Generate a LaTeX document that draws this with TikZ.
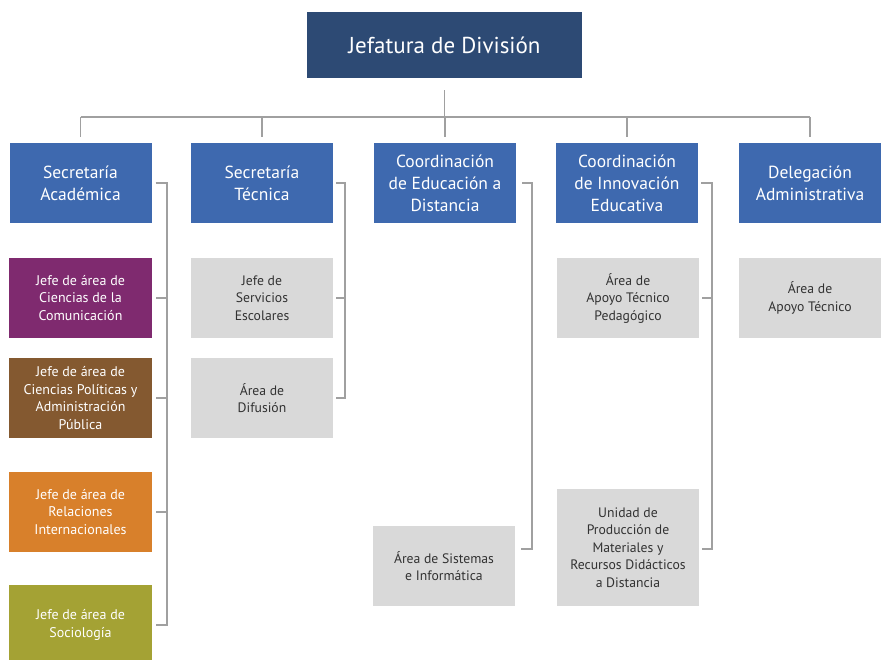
\documentclass[tikz,border=0pt]{standalone}
\usepackage{fontspec}
\setmainfont{PT Sans}
\definecolor{topc}{RGB}{45,74,116}
\definecolor{lvc}{RGB}{62,105,175}
\definecolor{purp}{RGB}{127,42,111}
\definecolor{brwn}{RGB}{132,89,48}
\definecolor{orng}{RGB}{216,128,43}
\definecolor{oliv}{RGB}{164,162,52}
\definecolor{grayc}{RGB}{217,217,217}
\definecolor{txtg}{RGB}{50,50,50}
\definecolor{linec}{RGB}{160,160,160}
\tikzset{
  topbox/.style={rectangle, fill=topc, text=white, minimum width=275, minimum height=66, align=center, font=\fontsize{23}{27}\selectfont, inner sep=0},
  lvbox/.style={rectangle, fill=lvc, text=white, minimum width=142, minimum height=80, align=center, font=\fontsize{17.5}{22}\selectfont, inner sep=0},
  colbox/.style={rectangle, fill=#1, text=white, minimum width=143, minimum height=80, align=center, font=\fontsize{14}{17.5}\selectfont, inner sep=0},
  graybox/.style={rectangle, fill=grayc, text=txtg, minimum width=142, minimum height=80, align=center, font=\fontsize{13.7}{17.5}\selectfont, inner sep=0},
  conn/.style={draw=linec, line width=1.8pt}
}
\begin{document}
\begin{tikzpicture}[x=1pt,y=-1pt]
\useasboundingbox[fill=white] (0,0) rectangle (882,659);
% top
\node[topbox] (top) at (444.5,45) {Jefatura de División};
% level 2
\node[lvbox] (sa) at (80.5,183) {Secretaría\\Académica};
\node[lvbox] (st) at (262,183) {Secretaría\\Técnica};
\node[lvbox] (ce) at (445,183) {Coordinación\\de Educación a\\Distancia};
\node[lvbox] (ci) at (627,183) {Coordinación\\de Innovación\\Educativa};
\node[lvbox] (da) at (810,183) {Delegación\\Administrativa};
% children of sa
\node[colbox=purp] (com) at (80.5,298) {Jefe de área de\\Ciencias de la\\Comunicación};
\node[colbox=brwn] (pol) at (80.5,398) {Jefe de área de\\Ciencias Políticas y\\Administración\\Pública};
\node[colbox=orng] (rel) at (80.5,512) {Jefe de área de\\Relaciones\\Internacionales};
\node[colbox=oliv] (soc) at (80.5,625) {Jefe de área de\\Sociología};
% children of st
\node[graybox] (serv) at (262,298) {Jefe de\\Servicios\\Escolares};
\node[graybox] (dif) at (262,398) {Área de\\Difusión};
% child of ce
\node[graybox] (sis) at (444,566) {Área de Sistemas\\e Informática};
% children of ci
\node[graybox] (atp) at (628,298) {Área de\\Apoyo Técnico\\Pedagógico};
\node[graybox, minimum height=117] (upm) at (628,547.5) {Unidad de\\Producción de\\Materiales y\\Recursos Didácticos\\a Distancia};
% child of da
\node[graybox] (at) at (810,298) {Área de\\Apoyo Técnico};
% top connectors
\coordinate (bus) at (444.5,117);
\draw[conn, shorten <=12pt] (top.south) -- (bus);
\draw[conn] (sa.north |- bus) -- (da.north |- bus);
\foreach \b in {sa,st,ce,ci,da}{
  \draw[conn, shorten >=6pt] (\b.north |- bus) -- (\b.north);
}
% brackets
\coordinate (saB) at ([xshift=15]sa.east);
\draw[conn] ([xshift=4]sa.east) -- (saB) -- (saB |- soc.east) -- ([xshift=4]soc.east);
\foreach \c in {com,pol,rel}{
  \draw[conn] ([xshift=4]\c.east) -- (\c.east -| saB);
}
\coordinate (stB) at ([xshift=12]st.east);
\draw[conn] ([xshift=3]st.east) -- (stB) -- (stB |- dif.east) -- ([xshift=3]dif.east);
\draw[conn] ([xshift=3]serv.east) -- (serv.east -| stB);
\coordinate (ceB) at ([xshift=16]ce.east);
\coordinate (sisE) at ([xshift=6,yshift=17]sis.east);
\draw[conn] ([xshift=6]ce.east) -- (ceB) -- (ceB |- sisE) -- (sisE);
\coordinate (ciB) at ([xshift=14]ci.east);
\coordinate (upmE) at ([xshift=3,yshift=-1.5]upm.east);
\draw[conn] ([xshift=3]ci.east) -- (ciB) -- (ciB |- upmE) -- (upmE);
\draw[conn] ([xshift=3]atp.east) -- (atp.east -| ciB);
\end{tikzpicture}
\end{document}
